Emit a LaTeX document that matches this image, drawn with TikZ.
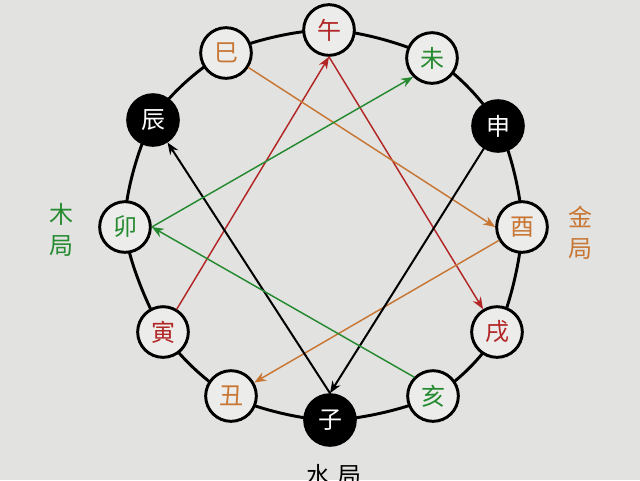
\documentclass[tikz,border=0pt]{standalone}
\usepackage{fontspec}
\setmainfont{Noto Sans CJK SC}
\usetikzlibrary{arrows.meta}
\definecolor{huo}{RGB}{178,38,38}
\definecolor{jin}{RGB}{200,118,52}
\definecolor{mu}{RGB}{38,138,48}
\definecolor{nen}{RGB}{226,227,225}
\definecolor{mat}{RGB}{236,236,234}
\begin{document}
\begin{tikzpicture}[x=0.75pt,y=-0.75pt,>={Stealth[length=9pt,width=7pt]}, line join=round, line cap=round,
	zhi/.style={circle,draw,line width=2.2pt,fill=mat,minimum size=38pt,inner sep=0pt,font=\fontsize{18}{18}\selectfont},
	zhiden/.style={zhi,fill=black,text=white},
	tuyen/.style={line width=1.1pt},
	ju/.style={font=\fontsize{18}{23}\selectfont,align=center}]
	\fill[nen] (0,0) rectangle (640,480);
	\useasboundingbox (0,0) rectangle (640,480);
	% vong ngoai
	\draw[line width=2.2pt] plot[smooth cycle] coordinates {(329,30) (432,58) (498,126) (522,227) (497,332) (433,396) (330,420) (231,396) (163,332) (125,227) (153,120) (226,53)};
	% 12 dia chi
	\node[zhi,text=huo] (wu) at (329,30) {午};
	\node[zhi,text=mu] (wei) at (432,58) {未};
	\node[zhiden] (shen) at (498,126) {申};
	\node[zhi,text=jin] (you) at (522,227) {酉};
	\node[zhi,text=huo] (xu) at (497,332) {戌};
	\node[zhi,text=mu] (hai) at (433,396) {亥};
	\node[zhiden] (zi) at (330,420) {子};
	\node[zhi,text=jin] (chou) at (231,396) {丑};
	\node[zhi,text=huo] (yin) at (163,332) {寅};
	\node[zhi,text=mu] (mao) at (125,227) {卯};
	\node[zhiden] (chen) at (153,120) {辰};
	\node[zhi,text=jin] (si) at (226,53) {巳};
	% tam hop
	\draw[->,tuyen,huo] (yin) -- (wu.south);
	\draw[->,tuyen,huo] (wu.south) -- (xu);
	\draw[->,tuyen,jin] (si) -- (you.west);
	\draw[->,tuyen,jin] (you) -- (chou);
	\draw[->,tuyen,line width=1.5pt] (shen) -- (zi.north);
	\draw[->,tuyen,line width=1.5pt] (zi.north) -- (chen);
	\draw[->,tuyen,mu] (hai.north west) -- (mao.east);
	\draw[->,tuyen,mu] (mao.east) -- (wei.south west);
	% nhan
	\node[ju,text=mu] (muju) at (62,230) {木\\局};
	\node[ju,text=jin] (jinju) at (580,233) {金\\局};
	\node[ju] (shuiju) at (334,475) {水\hspace{5pt}局};
\end{tikzpicture}
\end{document}
